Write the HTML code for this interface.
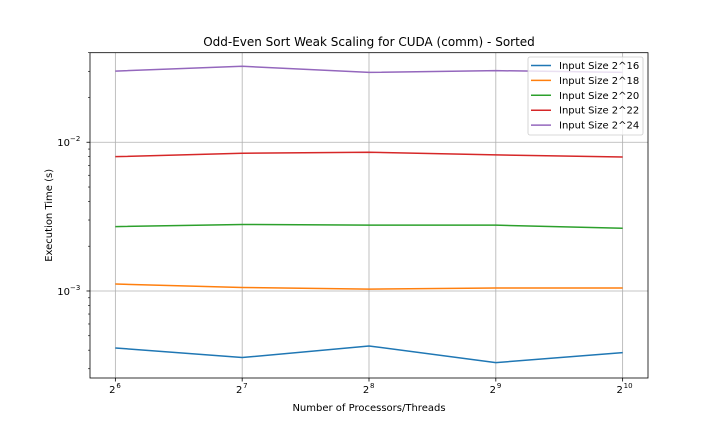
<!DOCTYPE html>
<html><head><meta charset="utf-8"><style>
html,body{margin:0;padding:0;background:#fff;}
svg{display:block;font-family:"DejaVu Sans","Liberation Sans",sans-serif;}
</style></head><body>
<svg id="chart" width="720" height="432" viewBox="0 0 720 432"></svg>
<script>
const categories = [6, 7, 8, 9, 10];
const seriesNames = ["Input Size 2^16","Input Size 2^18","Input Size 2^20","Input Size 2^22","Input Size 2^24"];
const seriesColors = ["#1f77b4","#ff7f0e","#2ca02c","#d62728","#9467bd"];
const s16 = [4.14e-4, 3.57e-4, 4.27e-4, 3.30e-4, 3.85e-4];
const s18 = [1.114e-3, 1.055e-3, 1.030e-3, 1.047e-3, 1.047e-3];
const s20 = [2.71e-3, 2.80e-3, 2.77e-3, 2.77e-3, 2.64e-3];
const s22 = [8.00e-3, 8.43e-3, 8.57e-3, 8.22e-3, 7.96e-3];
const s24 = [0.0301, 0.0324, 0.0295, 0.0303, 0.0295];
const allSeries = [s16, s18, s20, s22, s24];
const yMajorExps = [-3, -2];

const NS = "http://www.w3.org/2000/svg";
const svg = document.getElementById("chart");
const L = 90, R = 648, T = 52.7, B = 378;
const xMin = 5.8, xMax = 10.2;
const yLogMin = Math.log10(2.6e-4), yLogMax = Math.log10(0.0400);
function xs(v){ return L + (v - xMin) / (xMax - xMin) * (R - L); }
function ys(v){ return B - (Math.log10(v) - yLogMin) / (yLogMax - yLogMin) * (B - T); }
function mk(tag, attrs, parent){ const e = document.createElementNS(NS, tag); for (const k in attrs) e.setAttribute(k, attrs[k]); (parent||svg).appendChild(e); return e; }

// grid
const grid = mk("g", {});


categories.forEach(c => { mk("line", {x1:xs(c), x2:xs(c), y1:T, y2:B, stroke:"#b0b0b0", "stroke-width":0.8}, grid); });
yMajorExps.forEach(e => { const y = ys(Math.pow(10,e)); mk("line", {x1:L, x2:R, y1:y, y2:y, stroke:"#b0b0b0", "stroke-width":0.8}, grid); });

// series
allSeries.forEach((s, i) => {
  const pts = s.map((v, j) => xs(categories[j]).toFixed(2) + "," + ys(v).toFixed(2)).join(" ");
  const pl = mk("polyline", {points: pts, fill:"none", stroke: seriesColors[i], "stroke-width":1.5, "stroke-linejoin":"round"});
  
  
});

// axes frame
const frame = mk("rect", {x:L, y:T, width:R-L, height:B-T, fill:"none", stroke:"#000", "stroke-width":0.8});



// x ticks
const xAxis = mk("g", {});


categories.forEach(c => {
  const x = xs(c);
  mk("line", {x1:x, x2:x, y1:B, y2:B+3.5, stroke:"#000", "stroke-width":0.8}, xAxis);
  const t = mk("text", {x:x-3, y:B+15, "font-size":10, "text-anchor":"middle", fill:"#000"}, xAxis);
  t.textContent = "2";
  const sup = mk("text", {x:x+1, y:B+10, "font-size":7, "text-anchor":"start", fill:"#000"}, xAxis);
  sup.textContent = String(c);
});

// y ticks
const yAxis = mk("g", {});


yMajorExps.forEach(e => {
  const y = ys(Math.pow(10,e));
  mk("line", {x1:L-3.5, x2:L, y1:y, y2:y, stroke:"#000", "stroke-width":0.8}, yAxis);
  const t = mk("text", {x:L-20, y:y+4, "font-size":10, "text-anchor":"end", fill:"#000"}, yAxis);
  t.textContent = "10";
  const sup = mk("text", {x:L-20, y:y-1, "font-size":7, "text-anchor":"start", fill:"#000"}, yAxis);
  sup.textContent = "\u2212" + Math.abs(e);
});
for (let e = -4; e <= -2; e++) {
  for (let m = 2; m <= 9; m++) {
    const v = m * Math.pow(10, e);
    const y = ys(v);
    if (y < T - 0.5 || y > B + 0.5) continue;
    mk("line", {x1:L-2, x2:L, y1:y, y2:y, stroke:"#000", "stroke-width":0.6}, yAxis);
  }
}

// titles
const title = mk("text", {x:(L+R)/2, y:46, "font-size":12, "text-anchor":"middle", fill:"#000"});
title.textContent = "Odd-Even Sort Weak Scaling for CUDA (comm) - Sorted";


const xt = mk("text", {x:(L+R)/2, y:411, "font-size":10, "text-anchor":"middle", fill:"#000"});
xt.textContent = "Number of Processors/Threads";


const yt = mk("text", {x:0, y:0, "font-size":10, "text-anchor":"middle", fill:"#000", transform:"translate(52," + ((T+B)/2) + ") rotate(-90)"});
yt.textContent = "Execution Time (s)";



// legend
const lg = mk("g", {});


mk("rect", {x:528, y:57, width:115, height:78, rx:2, fill:"#fff", "fill-opacity":0.8, stroke:"#ccc", "stroke-width":0.8}, lg);
seriesNames.forEach((n, i) => {
  const y = 65.5 + i * 14.9;
  const ln = mk("line", {x1:531, x2:551, y1:y, y2:y, stroke:seriesColors[i], "stroke-width":1.5}, lg);
  const t = mk("text", {x:559, y:y+3.5, "font-size":10, fill:"#000"}, lg);
  t.textContent = n;
  
  
});
</script>
</body></html>
